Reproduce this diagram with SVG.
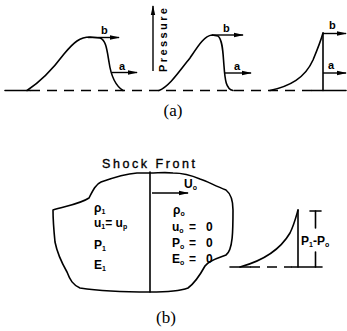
<svg xmlns="http://www.w3.org/2000/svg" width="347" height="331" viewBox="0 0 347 331">
<defs>
<marker id="ah" viewBox="0 0 10 6" refX="9" refY="3" markerWidth="10" markerHeight="6" markerUnits="userSpaceOnUse" orient="auto">
<path d="M0,0.8 L10,3 L0,5.2 Z" fill="#000"/>
</marker>
<style>
.ln{fill:none;stroke:#000;stroke-width:1.6;stroke-linecap:round;stroke-linejoin:round}
.dash{fill:none;stroke:#000;stroke-width:1.6;stroke-dasharray:10,7}
.ar{fill:none;stroke:#000;stroke-width:1.4;marker-end:url(#ah)}
.t{font-family:"Liberation Sans","DejaVu Sans",sans-serif;font-weight:bold;fill:#000}
.cap{font-family:"Liberation Serif","DejaVu Serif",serif;font-size:17px;fill:#000}
.sub{font-size:7px}
</style>
</defs>
<rect width="347" height="331" fill="#fff"/>
<g id="panel-a">
<g id="baseline-a">
<line class="dash" x1="30" y1="90.5" x2="312" y2="90.5"/>
<line class="ln" x1="5" y1="90.5" x2="30" y2="90.5"/>
<line class="ln" x1="312" y1="90.5" x2="346" y2="90.5"/>
</g>
<g id="curve1">
<path class="ln" d="M27,90.5 C40,82 52,70 64,54 C74,42 80,37 90,37 L100,38 C106,40 107,50 109,62 C111,76 116,86 123,90.5"/>
<text class="t" x="101" y="34" font-size="11">b</text>
<text class="t" x="119" y="70" font-size="11">a</text>
</g>
<g id="curve2">
<path class="ln" d="M159,90.5 C170,86 180,70 190,58 C198,46 204,36 212,35 L218,36 C223,40 223,55 224,66 C225,80 226,89 233,90.5"/>
<text class="t" x="223" y="32" font-size="11">b</text>
<text class="t" x="234" y="70" font-size="11">a</text>
</g>
<g id="curve3">
<path class="ln" d="M270,90.5 C290,86 305,78 313,60 C318,48 321,40 323,33"/>
<line class="ln" x1="323" y1="33" x2="323" y2="90.5"/>
<text class="t" x="329" y="29" font-size="11">b</text>
<text class="t" x="328" y="69" font-size="11">a</text>
</g>
<g id="pressure-axis">
<text class="t" font-size="11" transform="translate(167,72) rotate(-90)" textLength="64" lengthAdjust="spacing">Pressure</text>
</g>
</g>
<g id="connectors">
<line class="ar" x1="88" y1="37.5" x2="119" y2="37.5"/>
<line class="ar" x1="112" y1="72.5" x2="137" y2="72.5"/>
<line class="ar" x1="212" y1="35" x2="243" y2="35"/>
<line class="ar" x1="225" y1="73" x2="251" y2="73"/>
<line class="ar" x1="323" y1="33.5" x2="346" y2="33.5"/>
<line class="ar" x1="323" y1="73" x2="346" y2="73"/>
<line class="ar" x1="153" y1="71" x2="153" y2="6"/>
<line class="ar" x1="152" y1="193" x2="188" y2="193"/>
</g>
<text class="cap" x="173" y="116" text-anchor="middle">(a)</text>
<g id="panel-b">
<text x="102" y="168" font-size="12.5" font-family="Liberation Sans, DejaVu Sans, sans-serif" stroke="#000" stroke-width="0.35" textLength="93" lengthAdjust="spacing">Shock Front</text>
<g id="blob">
<path class="ln" d="M150,173 L137,173 C125,174 115,177 101,182 C96,184 93,190 89,198 C80,204 66,206 53,210 C53,220 54,232 55,242 C57,252 63,265 67,272 C70,280 73,285 80,288 C100,291 130,292 150,292 C165,292 180,291 188,288 C195,283 200,275 205,266 C209,260 218,258 226,255 C233,250 233,230 233,210 C233,200 231,194 226,190 C215,186 207,181 200,179 C193,176 185,173 173,173 C165,172 158,173 150,173 Z"/>
<line class="ln" x1="150" y1="172" x2="150" y2="292"/>
</g>
<g id="left-state" class="t" font-size="12">
<text x="94" y="212">ρ<tspan class="sub" dy="2">1</tspan></text>
<text x="94" y="227">u<tspan class="sub" dy="2">1</tspan><tspan dy="-2">= u</tspan><tspan class="sub" dy="2">p</tspan></text>
<text x="94" y="249">P<tspan class="sub" dy="2">1</tspan></text>
<text x="94" y="269">E<tspan class="sub" dy="2">1</tspan></text>
</g>
<g id="right-state" class="t" font-size="12">
<text x="184" y="188">U<tspan class="sub" dy="2">o</tspan></text>
<text x="173" y="214">ρ<tspan class="sub" dy="2">o</tspan></text>
<text x="172" y="231">u<tspan class="sub" dy="2">o</tspan><tspan x="189" dy="-2">=</tspan><tspan x="206">0</tspan></text>
<text x="172" y="247">P<tspan class="sub" dy="2">o</tspan><tspan x="189" dy="-2">=</tspan><tspan x="206">0</tspan></text>
<text x="172" y="263">E<tspan class="sub" dy="2">o</tspan><tspan x="189" dy="-2">=</tspan><tspan x="206">0</tspan></text>
</g>
<g id="pulse-b">
<line class="ln" x1="230" y1="267" x2="250" y2="267"/>
<line class="dash" x1="250" y1="267" x2="292" y2="267"/>
<line class="ln" x1="292" y1="267" x2="322" y2="267"/>
<path class="ln" d="M240,267 C262,261 280,250 290,233 C294,225 296,217 298,210"/>
<line class="ln" x1="298" y1="210" x2="298" y2="267"/>
<line class="ln" x1="310" y1="211" x2="321" y2="211"/>
<line class="ln" x1="315.5" y1="211" x2="315.5" y2="228"/>
<line class="ln" x1="315.5" y1="252" x2="315.5" y2="267"/>
<text class="t" x="301" y="245" font-size="12">P<tspan class="sub" dy="2">1</tspan><tspan dy="-2">-P</tspan><tspan class="sub" dy="2">o</tspan></text>
</g>
</g>
<text class="cap" x="166" y="323" text-anchor="middle">(b)</text>
</svg>
